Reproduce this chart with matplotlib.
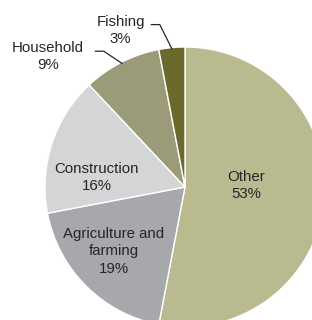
import numpy as np
import matplotlib.pyplot as plt

# dati
categorie = ["Other", "Agriculture and\nfarming", "Construction", "Household", "Fishing"]
percentuali = [53, 19, 16, 9, 3]
colori = ["#B9BA8F", "#A7A8AC", "#D4D5D7", "#9B9B79", "#6B6A2C"]

# posizione etichette (in unita' del raggio)
pos_etichette = [(0.44, 0.01), (-0.51, -0.46), (-0.63, 0.07), (-0.98, 0.93), (-0.46, 1.12)]
con_linea = [False, False, False, True, True]

fig = plt.figure(figsize=(3.12, 3.2), dpi=100)
ax = fig.add_axes([0, 0, 1, 1])

wedges, _ = ax.pie(
    percentuali,
    colors=colori,
    startangle=90,
    counterclock=False,
    wedgeprops=dict(edgecolor="white", linewidth=1),
)

for w, nome, p, (tx, ty), linea in zip(wedges, categorie, percentuali, pos_etichette, con_linea):
    ax.text(tx, ty, f"{nome}\n{p}%", ha="center", va="center", fontsize=10.8,
            family="Liberation Sans", color="#262626", linespacing=1.3)
    if linea:
        ang = np.deg2rad((w.theta1 + w.theta2) / 2)
        ex, ey = np.cos(ang) * 0.99, np.sin(ang) * 0.99
        x0 = tx + 0.34 if nome == "Household" else tx + 0.22
        y0 = ty + 0.04
        ax.plot([x0, x0 + 0.06, ex], [y0, y0, ey], color="#262626", lw=0.9)

# pixel: centro (185, 187), raggio 140
ax.set_xlim(-185 / 140, (312 - 185) / 140)
ax.set_ylim(-(320 - 187) / 140, 187 / 140)
ax.set_aspect("auto")
ax.axis("off")

fig.savefig("out.png", dpi=100)
